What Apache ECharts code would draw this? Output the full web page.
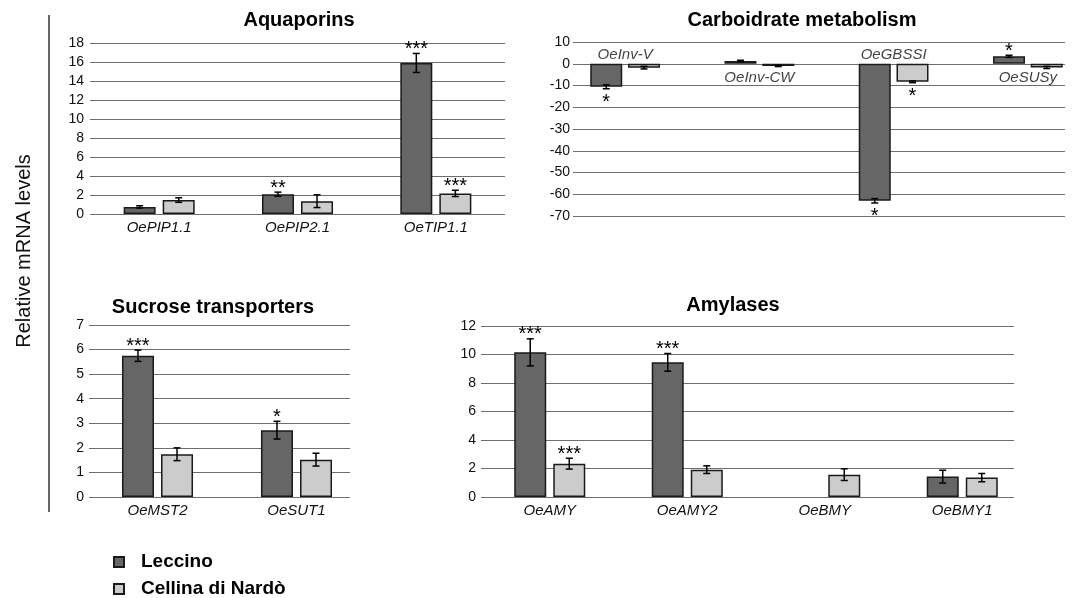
<!DOCTYPE html>
<html><head><meta charset="utf-8">
<script src="https://cdn.jsdelivr.net/npm/echarts@6/dist/echarts.min.js"></script>
<style>html,body{margin:0;padding:0;background:#fff}#c{width:1072px;height:598px}</style>
</head><body><div id="c"></div>
<script>
// ---------- data ----------
const seriesNames = ['Leccino', 'Cellina di Nardò'];
const yAxisTitle = 'Relative mRNA levels';

const aquaTitle = 'Aquaporins';
const aquaCategories = ['OePIP1.1', 'OePIP2.1', 'OeTIP1.1'];
const aquaLeccino = [0.75, 2.08, 15.9];
const aquaLeccinoErr = [0.12, 0.22, 1.0];
const aquaCellina = [1.47, 1.35, 2.17];
const aquaCellinaErr = [0.24, 0.67, 0.33];
const aquaLeccinoSig = ['', '**', '***'];
const aquaCellinaSig = ['', '', '***'];
const aquaTicks = [0, 2, 4, 6, 8, 10, 12, 14, 16, 18];

const carbTitle = 'Carboidrate metabolism';
const carbCategories = ['OeInv-V', 'OeInv-CW', 'OeGBSSI', 'OeSUSy'];
const carbLeccino = [-10.6, 1.3, -63.0, 3.4];
const carbLeccinoErr = [0.9, 0.3, 1.0, 0.5];
const carbCellina = [-1.8, -1.0, -8.3, -1.7];
const carbCellinaErr = [0.6, 0.3, 0.4, 0.5];
const carbLeccinoSig = ['*', '', '*', '*'];
const carbCellinaSig = ['', '', '*', ''];
const carbTicks = [-70, -60, -50, -40, -30, -20, -10, 0, 10];

const sucTitle = 'Sucrose transporters';
const sucCategories = ['OeMST2', 'OeSUT1'];
const sucLeccino = [5.75, 2.72];
const sucLeccinoErr = [0.23, 0.36];
const sucCellina = [1.74, 1.52];
const sucCellinaErr = [0.26, 0.26];
const sucLeccinoSig = ['***', '*'];
const sucCellinaSig = ['', ''];
const sucTicks = [0, 1, 2, 3, 4, 5, 6, 7];

const amyTitle = 'Amylases';
const amyCategories = ['OeAMY', 'OeAMY2', 'OeBMY', 'OeBMY1'];
const amyLeccino = [10.15, 9.45, null, 1.43];
const amyLeccinoErr = [0.95, 0.62, 0, 0.45];
const amyCellina = [2.34, 1.92, 1.57, 1.36];
const amyCellinaErr = [0.38, 0.27, 0.41, 0.29];
const amyLeccinoSig = ['***', '***', '', ''];
const amyCellinaSig = ['***', '', '', ''];
const amyTicks = [0, 2, 4, 6, 8, 10, 12];

// ---------- layout / style ----------
const FONT = '"Liberation Sans", Arial, sans-serif';
const barColors = ['#666666', '#cccccc'];

const legendBase = {
  orient: 'vertical', left: 113, itemWidth: 10, itemHeight: 10, padding: 0,
  selectedMode: false,
  textStyle: { fontSize: 19, fontWeight: 'bold', color: '#000', fontFamily: FONT, padding: [0, 0, 0, 12], lineHeight: 20 }
};

const option = {
  animation: false,
  textStyle: { fontFamily: FONT },
  grid: [], xAxis: [], yAxis: [], series: [], graphic: [],
  legend: [
    Object.assign({}, legendBase, { top: 552, data: [{ name: seriesNames[0], icon: 'rect' }] }),
    Object.assign({}, legendBase, { top: 579, data: [{ name: seriesNames[1], icon: 'rect' }] })
  ]
};

function addPanel(p, L) {
  const g = option.grid.length;
  option.grid.push({ left: L.axisLeft, top: L.top, width: L.axisWidth, height: L.height, outerBoundsMode: 'none' });
  option.grid.push({ left: L.barLeft, top: L.top, width: L.barGridWidth, height: L.height, outerBoundsMode: 'none' });
  const min = p.ticks[0], max = p.ticks[p.ticks.length - 1], interval = p.ticks[1] - p.ticks[0];
  const xa = option.xAxis.length, ya = option.yAxis.length;
  option.xAxis.push({ gridIndex: g, type: 'value', show: false, min: 0, max: 1 });
  option.xAxis.push({
    gridIndex: g + 1, type: 'category', data: p.categories,
    axisLine: { show: false }, axisTick: { show: false },
    axisLabel: { show: !L.floatLabels, interval: 0, margin: 6, fontStyle: 'italic', fontSize: 15, color: '#111', fontFamily: FONT }
  });
  option.yAxis.push({
    gridIndex: g, type: 'value', min, max, interval,
    axisLine: { show: false }, axisTick: { show: false },
    axisLabel: { margin: L.labelMargin, fontSize: 14, color: '#111', fontFamily: FONT },
    splitLine: { show: true, lineStyle: { color: '#6e6e6e', width: 1.2 } }
  });
  option.yAxis.push({ gridIndex: g + 1, type: 'value', min, max, interval, show: false, splitLine: { show: false } });

  const sets = [[p.leccino, p.leccinoErr, p.leccinoSig], [p.cellina, p.cellinaErr, p.cellinaSig]];
  sets.forEach(([vals], s) => {
    option.series.push({
      type: 'bar', name: seriesNames[s], xAxisIndex: xa + 1, yAxisIndex: ya + 1,
      data: vals, barWidth: L.bw, barGap: (L.gap * 100) + '%',
      itemStyle: { color: barColors[s], borderColor: '#1a1a1a', borderWidth: 1.5 },
      emphasis: { disabled: true }, silent: true, z: 2
    });
  });
  sets.forEach(([vals, errs, sigs], s) => {
    const off = (s === 0 ? -1 : 1) * L.bw * (1 + L.gap) / 2;
    option.series.push({
      type: 'custom', xAxisIndex: xa + 1, yAxisIndex: ya + 1, clip: false, silent: true, z: 5,
      data: vals.map((v, i) => [i, v == null ? 0 : v, errs[i]]),
      renderItem(params, api) {
        const i = params.dataIndex;
        const v = vals[i];
        if (v == null) return null;
        const e = errs[i];
        const top = api.coord([i, v + e]);
        const bot = api.coord([i, v - e]);
        const x = top[0] + off;
        const cap = 3.5;
        const children = [
          { type: 'line', shape: { x1: x, y1: top[1], x2: x, y2: bot[1] }, style: { stroke: '#000', lineWidth: 1.5 } },
          { type: 'line', shape: { x1: x - cap, y1: top[1], x2: x + cap, y2: top[1] }, style: { stroke: '#000', lineWidth: 1.5 } },
          { type: 'line', shape: { x1: x - cap, y1: bot[1], x2: x + cap, y2: bot[1] }, style: { stroke: '#000', lineWidth: 1.5 } }
        ];
        const sig = sigs[i];
        if (sig) {
          const y = v >= 0 ? top[1] - 4 : bot[1] + 14;
          children.push({ type: 'text', style: { text: sig, x: x, y: y, font: '20px ' + FONT, fill: '#000', align: 'center', verticalAlign: 'middle', textAlign: 'center', textVerticalAlign: 'middle' } });
        }
        return { type: 'group', children };
      }
    });
  });

  if (L.floatLabels) {
    option.series.push({
      type: 'scatter', xAxisIndex: xa + 1, yAxisIndex: ya + 1, symbolSize: 0, silent: true, z: 6,
      data: p.categories.map((c, i) => ({
        value: [i, 0],
        label: { show: true, position: L.floatLabels[i] === 'up' ? 'top' : 'bottom', distance: L.floatLabels[i] === 'up' ? 1 : 7 }
      })),
      label: { formatter: (prm) => p.categories[prm.dataIndex], fontStyle: 'italic', fontSize: 15, color: '#111', fontFamily: FONT }
    });
  }

  option.graphic.push({
    type: 'text', x: L.titleX, y: L.titleY,
    style: { text: p.title, font: 'bold 20px ' + FONT, fill: '#000', align: 'center', verticalAlign: 'middle', textAlign: 'center', textVerticalAlign: 'middle' }
  });
}

addPanel(
  { title: aquaTitle, categories: aquaCategories, leccino: aquaLeccino, leccinoErr: aquaLeccinoErr, leccinoSig: aquaLeccinoSig,
    cellina: aquaCellina, cellinaErr: aquaCellinaErr, cellinaSig: aquaCellinaSig, ticks: aquaTicks },
  { axisLeft: 90, axisWidth: 415, barLeft: 90, barGridWidth: 415, top: 43, height: 171, bw: 32, gap: 0.22, labelMargin: 6, titleX: 299, titleY: 20 }
);
addPanel(
  { title: carbTitle, categories: carbCategories, leccino: carbLeccino, leccinoErr: carbLeccinoErr, leccinoSig: carbLeccinoSig,
    cellina: carbCellina, cellinaErr: carbCellinaErr, cellinaSig: carbCellinaSig, ticks: carbTicks },
  { axisLeft: 573, axisWidth: 492, barLeft: 558, barGridWidth: 537, top: 42, height: 174, bw: 32, gap: 0.18, labelMargin: 3, titleX: 802, titleY: 20,
    floatLabels: ['up', 'down', 'up', 'down'] }
);
addPanel(
  { title: sucTitle, categories: sucCategories, leccino: sucLeccino, leccinoErr: sucLeccinoErr, leccinoSig: sucLeccinoSig,
    cellina: sucCellina, cellinaErr: sucCellinaErr, cellinaSig: sucCellinaSig, ticks: sucTicks },
  { axisLeft: 89, axisWidth: 261, barLeft: 88, barGridWidth: 278, top: 325, height: 172, bw: 32, gap: 0.22, labelMargin: 5, titleX: 213, titleY: 307 }
);
addPanel(
  { title: amyTitle, categories: amyCategories, leccino: amyLeccino, leccinoErr: amyLeccinoErr, leccinoSig: amyLeccinoSig,
    cellina: amyCellina, cellinaErr: amyCellinaErr, cellinaSig: amyCellinaSig, ticks: amyTicks },
  { axisLeft: 481, axisWidth: 533, barLeft: 481, barGridWidth: 550, top: 326, height: 171, bw: 32, gap: 0.22, labelMargin: 5, titleX: 733, titleY: 305 }
);

option.graphic.push({
  type: 'text', x: 24, y: 251, rotation: Math.PI / 2,
  style: { text: yAxisTitle, font: '20px ' + FONT, fill: '#111', align: 'center', verticalAlign: 'middle', textAlign: 'center', textVerticalAlign: 'middle' }
});
option.graphic.push({
  type: 'line', shape: { x1: 49, y1: 15, x2: 49, y2: 512 }, style: { stroke: '#333', lineWidth: 1.5 }
});

const chart = echarts.init(document.getElementById('c'), null, { renderer: 'canvas' });
chart.setOption(option);
</script>
</body></html>
